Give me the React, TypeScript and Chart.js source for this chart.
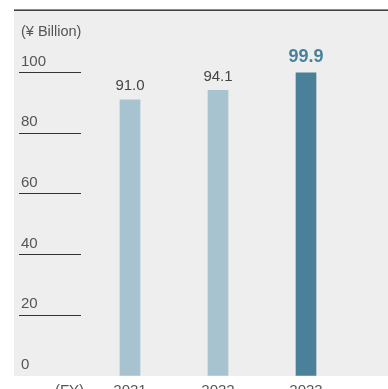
import React, { useEffect, useRef } from "react";
import { Chart, registerables } from "chart.js";

Chart.register(...registerables);

const YEARS = ["2021", "2022", "2023"];
const VALUES = [91.0, 94.1, 99.9];
const HIGHLIGHT_INDEX = 2;
const TICK_VALUES = [0, 20, 40, 60, 80, 100];
const UNIT_LABEL = "(¥ Billion)";
const X_PREFIX_LABEL = "(FY)";
const Y_MIN = 0;
const Y_MAX = 109.6;

const FONT = "'Liberation Sans', Arial, Helvetica, sans-serif";
const LIGHT = "#a7c3cf";
const DARK = "#4b8099";
const PANEL = "#eeeeee";
const TEXT = "#555555";
const X_TICK_PAD = 6;

const panelPlugin = {
  id: "panel",
  beforeDraw(chart: any) {
    const { ctx, chartArea } = chart;
    ctx.save();
    ctx.fillStyle = PANEL;
    ctx.fillRect(14, 10, chart.width - 14, chartArea.bottom - 10);
    ctx.fillStyle = "#1a1a1a";
    ctx.fillRect(14, 9.5, chart.width - 14, 1.3);
    ctx.restore();
  },
};

const labelsPlugin = {
  id: "valueLabels",
  afterDatasetsDraw(chart: any) {
    const { ctx } = chart;
    const meta = chart.getDatasetMeta(0);
    const data = chart.data.datasets[0].data as number[];
    ctx.save();
    ctx.textAlign = "center";
    ctx.textBaseline = "middle";
    meta.data.forEach((bar: any, i: number) => {
      const hl = i === HIGHLIGHT_INDEX;
      ctx.font = hl ? `bold 18px ${FONT}` : `15px ${FONT}`;
      ctx.fillStyle = hl ? DARK : "#444444";
      ctx.fillText(data[i].toFixed(1), bar.x, bar.y - (hl ? 15.5 : 14));
    });
    // "(FY)" prefix on the category axis row
    const xs = chart.scales.x;
    ctx.font = `15px ${FONT}`;
    ctx.fillStyle = TEXT;
    ctx.fillText(X_PREFIX_LABEL, xs.left - 16.5, xs.top + X_TICK_PAD + 9);
    ctx.restore();
  },
};

export default function App() {
  const ref = useRef<HTMLCanvasElement>(null);
  useEffect(() => {
    if (!ref.current) return;
    const chart = new Chart(ref.current, {
      type: "bar",
      data: {
        labels: YEARS,
        datasets: [
          {
            data: VALUES,
            backgroundColor: VALUES.map((_, i) => (i === HIGHLIGHT_INDEX ? DARK : LIGHT)),
            barThickness: 20,
            borderWidth: 0,
          },
        ],
      },
      options: {
        responsive: false,
        animation: false,
        events: [],
        layout: { padding: { top: 10, left: 21, right: 38, bottom: 0 } },
        plugins: {
          legend: { display: false },
          tooltip: { enabled: false },
          title: {
            display: true,
            text: UNIT_LABEL,
            align: "start",
            color: TEXT,
            font: { family: FONT, size: 14.5, weight: "normal" },
            padding: { top: 13, bottom: 3 },
          },
        },
        scales: {
          x: {
            grid: { display: false, drawTicks: false, tickLength: 0 },
            border: { display: false },
            ticks: {
              color: TEXT,
              padding: X_TICK_PAD,
              font: { family: FONT, size: 15 },
            },
          },
          y: {
            position: "left",
            weight: 10,
            min: Y_MIN,
            max: Y_MAX,
            afterBuildTicks: (s: any) => {
              s.ticks = TICK_VALUES.map((v) => ({ value: v }));
            },
            afterFit: (s: any) => {
              s.width = 60;
            },
            grid: {
              drawOnChartArea: false,
              drawTicks: true,
              tickLength: 62,
              tickWidth: 1,
              tickColor: (c: any) => (c.tick && c.tick.value === 0 ? "rgba(0,0,0,0)" : "#333333"),
            },
            border: { display: false },
            ticks: {
              crossAlign: "far",
              labelOffset: -11,
              padding: 0,
              color: TEXT,
              font: { family: FONT, size: 15 },
            },
          },
          spacer: {
            type: "linear",
            position: "left",
            weight: 0,
            display: true,
            grid: { display: false },
            border: { display: false },
            ticks: { display: false },
            afterFit: (s: any) => {
              s.width = 5;
            },
          },
        },
      } as any,
      plugins: [panelPlugin, labelsPlugin],
    });
    return () => chart.destroy();
  }, []);
  return (
    <div
      style={{
        position: "fixed",
        left: 0,
        top: 0,
        width: 388,
        height: 389,
        overflow: "hidden",
        background: "#ffffff",
      }}
    >
      <canvas ref={ref} width={388} height={406} style={{ display: "block" }} />
    </div>
  );
}
